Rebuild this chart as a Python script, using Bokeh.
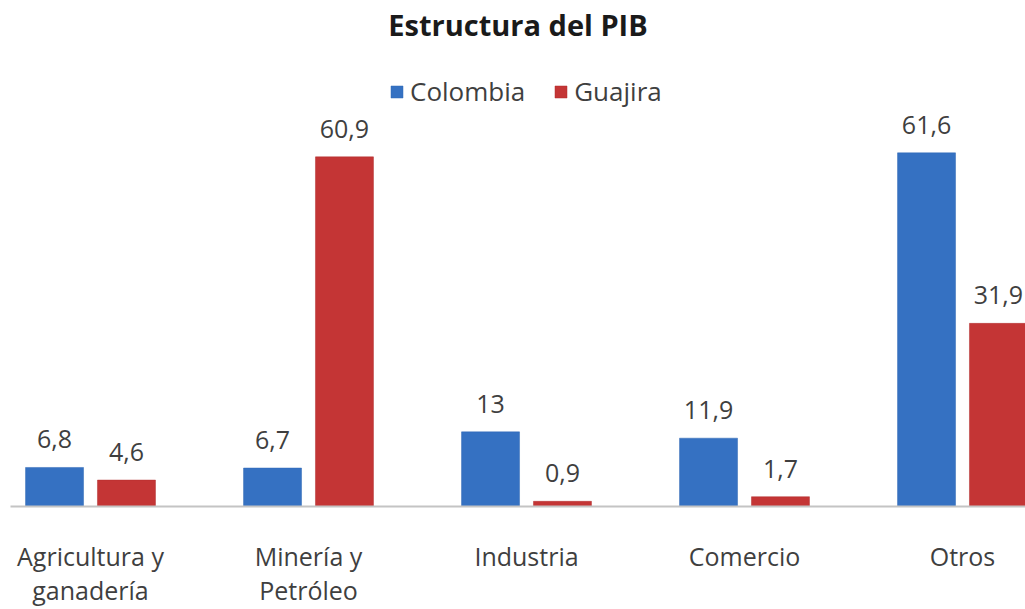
from bokeh.plotting import figure
from bokeh.models import (ColumnDataSource, Range1d, FixedTicker, Legend, LegendItem,
                          LabelSet)
from bokeh.core.properties import value
from bokeh.transform import dodge
from bokeh.embed import file_html
from bokeh.resources import INLINE

categories = ["Agricultura y\nganadería", "Minería y\nPetróleo", "Industria", "Comercio", "Otros"]
colombia = [6.8, 6.7, 13, 11.9, 61.6]
guajira = [4.6, 60.9, 0.9, 1.7, 31.9]
series_names = ["Colombia", "Guajira"]

FONT = "Open Sans"
TXT = "#3f3f3f"


def fmt(v):
    return f"{v:g}".replace(".", ",")


xs = list(range(len(categories)))
src = ColumnDataSource(dict(
    x=xs,
    col=colombia, gua=guajira,
    col_lbl=[fmt(v) for v in colombia],
    gua_lbl=[fmt(v) for v in guajira],
))

p = figure(width=1025, height=609, output_backend="svg", toolbar_location=None,
           x_range=Range1d(-0.367, 4.289), y_range=Range1d(0, 80.3),
           min_border_left=10, min_border_right=0, min_border_top=45, min_border_bottom=102,
           title="Estructura del PIB")
p.title.align = "center"
p.title.text_font = FONT
p.title.text_font_size = "29px"
p.title.text_font_style = "bold"
p.title.text_color = "#1a1a1a"
p.title.standoff = 4

p.outline_line_color = None
p.background_fill_color = "white"
p.border_fill_color = "white"
p.xgrid.visible = False
p.ygrid.visible = False
p.yaxis.visible = False

BW = 0.266
OFF = 0.165
r1 = p.vbar(x=dodge("x", -OFF, range=p.x_range), top="col", width=BW, source=src,
            fill_color="#3571c2", line_color="#3068b4", line_width=0.5)
r2 = p.vbar(x=dodge("x", OFF, range=p.x_range), top="gua", width=BW, source=src,
            fill_color="#c43535", line_color="#b02e2e", line_width=0.5)

for col, lab, off in (("col", "col_lbl", -OFF), ("gua", "gua_lbl", OFF)):
    ls = LabelSet(x=dodge("x", off, range=p.x_range), y=col, text=lab, source=src,
                  text_align="center", text_baseline="alphabetic", y_offset=19,
                  text_font=value(FONT), text_font_size="25px", text_color=TXT)
    p.add_layout(ls)

ax = p.xaxis[0]
ax.ticker = FixedTicker(ticks=xs)
ax.major_label_overrides = {i: c for i, c in enumerate(categories)}
ax.major_tick_line_color = None
ax.minor_tick_line_color = None
ax.axis_line_color = "#c4c4c4"
ax.axis_line_width = 2
ax.major_label_standoff = 26
ax.major_label_text_font = FONT
ax.major_label_text_font_size = "25px"
ax.major_label_text_line_height = 1.0
ax.major_label_text_color = TXT

legend = Legend(items=[LegendItem(label=series_names[0], renderers=[r1]),
                       LegendItem(label=series_names[1], renderers=[r2])],
                orientation="horizontal", location=(379, 397),
                border_line_color=None, background_fill_alpha=0,
                label_text_font=FONT, label_text_font_size="26px", label_text_color=TXT,
                glyph_width=15, glyph_height=15, spacing=28, padding=4, margin=0,
                label_standoff=6)
p.add_layout(legend)

open("out.html", "w").write(file_html(p, INLINE))
